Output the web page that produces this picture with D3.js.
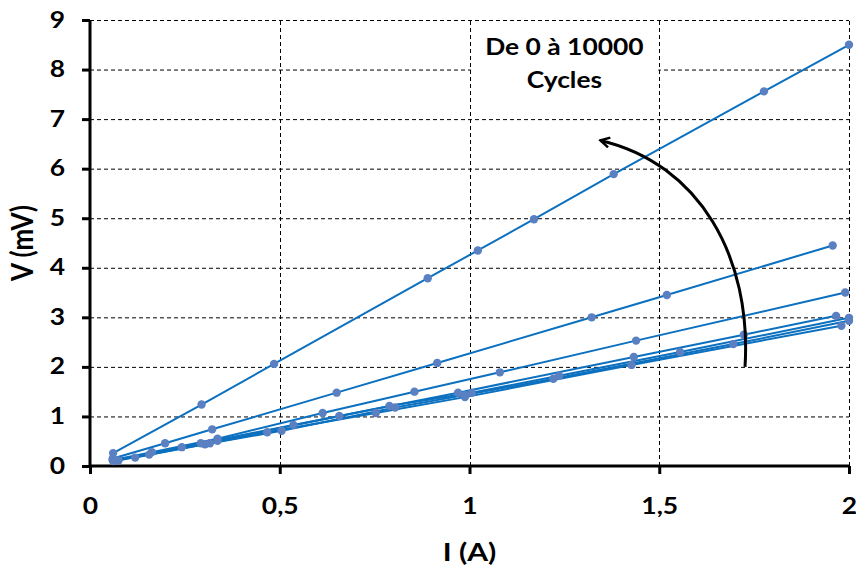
<!DOCTYPE html>
<html>
<head>
<meta charset="utf-8">
<script src="https://cdn.jsdelivr.net/npm/d3@7"></script>
<style>
  body { margin: 0; background: #fff; }
  text { font-family: Lato, "Open Sans", sans-serif; font-weight: bold; fill: #000; }
</style>
</head>
<body>
<div id="chart"></div>
<script>
const width = 856;
const height = 568;
const margin = {top: 20, right: 7, bottom: 102, left: 90};
const stretch = 1.2; // the source text is a little wider than normal

// data: current I (A) and voltage V (mV), one series per cycle count
const serie1 = [[0.061, 0.26], [0.294, 1.24], [0.485, 2.06], [0.89, 3.79], [1.022, 4.35], [1.17, 4.98], [1.38, 5.89], [1.776, 7.56], [2.0, 8.5]];
const serie2 = [[0.06, 0.15], [0.198, 0.46], [0.322, 0.74], [0.65, 1.48], [0.915, 2.08], [1.322, 3.0], [1.52, 3.45], [1.957, 4.45]];
const serie3 = [[0.06, 0.12], [0.163, 0.28], [0.336, 0.55], [0.613, 1.07], [0.855, 1.5], [1.08, 1.89], [1.439, 2.53], [1.99, 3.5]];
const serie4 = [[0.06, 0.12], [0.156, 0.23], [0.292, 0.46], [0.536, 0.83], [0.657, 1.01], [0.97, 1.48], [1.433, 2.2], [1.723, 2.65], [1.966, 3.03]];
const serie5 = [[0.075, 0.11], [0.242, 0.38], [0.336, 0.51], [0.789, 1.21], [1.006, 1.48], [1.236, 1.82], [1.555, 2.3], [2.0, 2.99]];
const serie6 = [[0.061, 0.1], [0.303, 0.44], [0.505, 0.71], [0.804, 1.18], [0.988, 1.43], [1.221, 1.76], [1.695, 2.46], [2.0, 2.93]];
const serie7 = [[0.119, 0.17], [0.316, 0.46], [0.467, 0.68], [0.753, 1.07], [0.988, 1.39], [1.427, 2.04], [1.98, 2.83]];
const series = [serie1, serie2, serie3, serie4, serie5, serie6, serie7];

const xTicks = [0, 0.5, 1, 1.5, 2];
const yTicks = [0, 1, 2, 3, 4, 5, 6, 7, 8, 9];
const xLabel = "I (A)";
const yLabel = "V (mV)";
const noteLines = ["De 0 à 10000", "Cycles"];
// note box and curved arrow, in data units
const noteBox = {x0: 1, x1: 1.5, y0: 9, y1: 7.05};
const arrowPts = [[1.726, 2.0], [1.744, 4.2], [1.607, 6.1], [1.345, 6.57]];

const lineCol = "#0b70bf";
const markerCol = "#5a80c2";

const svg = d3.select("#chart").append("svg")
  .attr("width", width)
  .attr("height", height)
  .style("background", "#fff");

const x = d3.scaleLinear().domain([0, 2]).range([margin.left, width - margin.right]);
const y = d3.scaleLinear().domain([0, 9]).range([height - margin.bottom, margin.top]);

// grid
const grid = svg.append("g").attr("stroke", "#000").attr("stroke-width", 1).attr("stroke-dasharray", "4 3");
grid.selectAll(".gy").data(yTicks.filter(d => d > 0)).join("line")
  .attr("x1", x(0)).attr("x2", x(2))
  .attr("y1", d => y(d) + 0.5).attr("y2", d => y(d) + 0.5);
grid.selectAll(".gx").data(xTicks.filter(d => d > 0)).join("line")
  .attr("y1", y(0)).attr("y2", y(9))
  .attr("x1", d => Math.round(x(d)) + 0.5).attr("x2", d => Math.round(x(d)) + 0.5);

// note box
svg.append("rect")
  .attr("x", x(noteBox.x0) + 1.5)
  .attr("y", y(noteBox.y0) + 1.5)
  .attr("width", x(noteBox.x1) - x(noteBox.x0) - 2.5)
  .attr("height", y(noteBox.y1) - y(noteBox.y0) - 1.5)
  .attr("fill", "#fff");
svg.selectAll(".note").data(noteLines).join("text")
  .attr("transform", (d, i) => `translate(${(x(noteBox.x0) + x(noteBox.x1)) / 2}, ${55 + i * 33}) scale(${stretch},1)`)
  .attr("text-anchor", "middle")
  .style("font-size", "22px")
  .text(d => d);

// axes
const xAxis = svg.append("g")
  .attr("transform", `translate(0, ${y(0)})`)
  .call(d3.axisBottom(x).tickValues(xTicks).tickSize(8).tickPadding(24)
    .tickFormat(d => String(d).replace(".", ",")));
const yAxis = svg.append("g")
  .attr("transform", `translate(${x(0)}, 0)`)
  .call(d3.axisLeft(y).tickValues(yTicks).tickSize(8).tickPadding(16));
[xAxis, yAxis].forEach(g => {
  g.select(".domain").attr("stroke-width", 3).attr("stroke", "#000");
  g.selectAll(".tick line").attr("stroke-width", 3).attr("stroke", "#000");
  g.selectAll("text").style("font-size", "22px").style("font-family", "Lato, 'Open Sans', sans-serif")
    .style("font-weight", "bold").attr("fill", "#000")
    .attr("transform", `scale(${stretch},1)`);
});
yAxis.selectAll("text").attr("x", -25 / stretch);
xAxis.select(".domain").attr("d", `M${x(0)},0H${x(2)}`);
yAxis.select(".domain").attr("d", `M0,${y(0)}V${y(9)}`);

// axis titles
svg.append("text")
  .attr("transform", `translate(${x(1)}, 561) scale(${stretch},1)`)
  .attr("text-anchor", "middle")
  .style("font-size", "25px")
  .text(xLabel);
svg.append("text")
  .attr("transform", `translate(33, ${y(4.5)}) rotate(-90) scale(1,${stretch})`)
  .attr("text-anchor", "middle")
  .style("font-size", "26px")
  .text(yLabel);

// series
const line = d3.line().x(d => x(d[0])).y(d => y(d[1]));
const plotG = svg.append("g");
plotG.selectAll(".serie").data(series).join("path")
  .attr("d", line)
  .attr("fill", "none")
  .attr("stroke", lineCol)
  .attr("stroke-width", 2);
plotG.selectAll(".pts").data(series).join("g")
  .selectAll("circle").data(d => d).join("circle")
  .attr("cx", d => x(d[0]))
  .attr("cy", d => y(d[1]))
  .attr("r", 4.2)
  .attr("fill", markerCol);

// curved arrow
svg.append("defs").append("marker")
  .attr("id", "head")
  .attr("viewBox", "0 0 12 12")
  .attr("refX", 10).attr("refY", 6)
  .attr("markerWidth", 12).attr("markerHeight", 12)
  .attr("markerUnits", "userSpaceOnUse")
  .attr("orient", "auto")
  .append("path")
  .attr("d", "M1,1L10,6L1,11")
  .attr("fill", "none")
  .attr("stroke", "#000")
  .attr("stroke-width", 2.5);
const p = arrowPts.map(d => [x(d[0]), y(d[1])]);
svg.append("path")
  .attr("d", `M${p[0]}C${p[1]} ${p[2]} ${p[3]}`)
  .attr("fill", "none")
  .attr("stroke", "#000")
  .attr("stroke-width", 3)
  .attr("marker-end", "url(#head)");
</script>
</body>
</html>
